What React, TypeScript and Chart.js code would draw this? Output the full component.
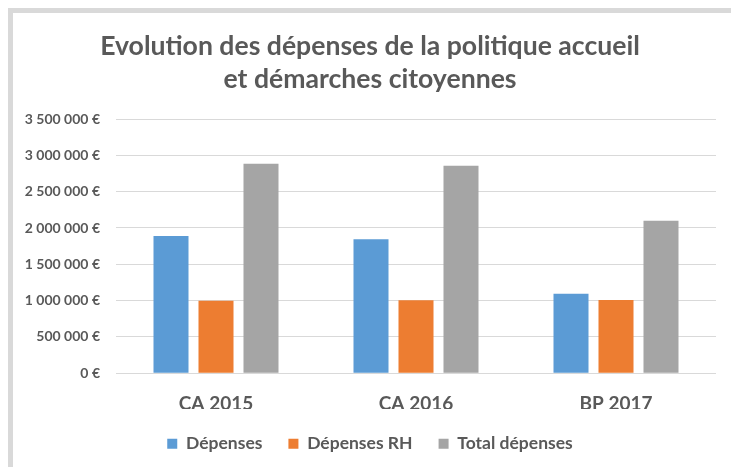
import React, { useEffect, useRef } from "react";
import { Chart, registerables } from "chart.js";

Chart.register(...registerables);

const titleLines = ["Evolution des dépenses de la politique accueil", "et démarches citoyennes"];
const categories = ["CA 2015", "CA 2016", "BP 2017"];
const depenses = [1890000, 1845000, 1095000];
const depensesRH = [1000000, 1005000, 1010000];
const totalDepenses = [2885000, 2855000, 2100000];
const seriesNames = ["Dépenses", "Dépenses RH", "Total dépenses"];
const seriesColors = ["#5b9bd5", "#ed7d31", "#a5a5a5"];
const yMax = 3500000;
const yStep = 500000;

const FONT = "Lato";
const TEXT = "#595959";
const GRID = "#d9d9d9";

function formatEuro(v: number): string {
  const s = Math.round(v).toString();
  const parts: string[] = [];
  for (let i = s.length; i > 0; i -= 3) {
    parts.unshift(s.substring(Math.max(0, i - 3), i));
  }
  return parts.join(" ") + " €";
}

export default function App() {
  const ref = useRef<HTMLCanvasElement | null>(null);

  useEffect(() => {
    if (!ref.current) return;
    const data = [depenses, depensesRH, totalDepenses];
    const chart = new Chart(ref.current, {
      type: "bar",
      data: {
        labels: categories,
        datasets: seriesNames.map((name, i) => ({
          label: name,
          data: data[i],
          backgroundColor: seriesColors[i],
          borderWidth: 0,
          categoryPercentage: 0.675,
          barPercentage: 0.778,
        })),
      },
      options: {
        animation: false,
        responsive: false,
        maintainAspectRatio: false,
        layout: { padding: { left: 24, right: 15, top: 10, bottom: 4.5 } },
        plugins: {
          title: {
            display: true,
            text: titleLines,
            color: TEXT,
            font: { family: FONT, size: 26.6, weight: "bold", lineHeight: 33 / 26.6 },
            padding: { top: 20, bottom: 23 },
          },
          legend: {
            display: true,
            position: "bottom",
            labels: {
              boxWidth: 10,
              boxHeight: 10,
              padding: 26,
              color: TEXT,
              font: { family: FONT, size: 17.5, weight: "bold" },
            },
          },
          tooltip: { enabled: false },
        },
        scales: {
          x: {
            grid: { display: false, drawTicks: false },
            border: { display: false },
            afterFit: (scale: any) => {
              scale.height = 35.7;
            },
            ticks: {
              color: TEXT,
              font: { family: FONT, size: 19, weight: "bold" },
              padding: 19,
            },
          },
          y: {
            min: 0,
            max: yMax,
            afterFit: (scale: any) => {
              scale.width = 92;
            },
            grid: { color: GRID, lineWidth: 1, drawTicks: false },
            border: { display: false },
            ticks: {
              stepSize: yStep,
              color: TEXT,
              padding: 16,
              font: { family: FONT, size: 14, weight: "bold" },
              callback: (v: any) => formatEuro(Number(v)),
            },
          },
        },
      },
    });
    return () => chart.destroy();
  }, []);

  return (
    <div style={{ position: "fixed", left: 0, top: 0, width: 731, height: 467, overflow: "hidden", background: "#fff" }}>
      <div
        style={{
          position: "absolute",
          left: 8,
          top: 8,
          right: 0,
          bottom: 0,
          borderLeft: "5px solid #d9d9d9",
          borderTop: "5px solid #d9d9d9",
        }}
      />
      <canvas ref={ref} width={731} height={467} style={{ position: "absolute", left: 0, top: 0 }} />
    </div>
  );
}
